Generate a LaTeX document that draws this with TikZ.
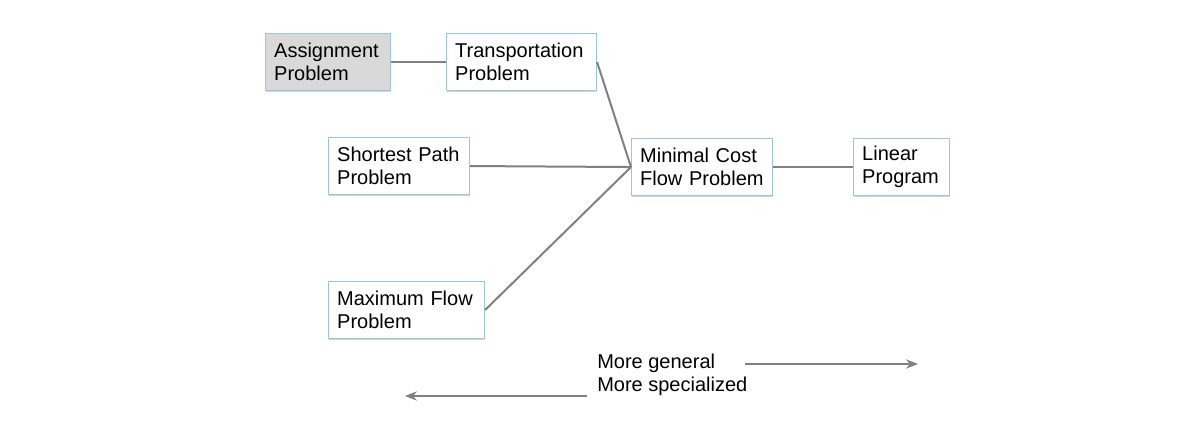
\documentclass[tikz,border=0pt]{standalone}
\usepackage{fontspec}
\setmainfont{Liberation Sans}
\usetikzlibrary{arrows.meta,shadows}
\definecolor{boxblue}{HTML}{9DC3E6}
\definecolor{boxgray}{HTML}{D9D9D9}
\definecolor{linegray}{HTML}{808080}
\tikzset{
    probbox/.style = {draw=boxblue, line width=0.8pt, fill=white, rectangle, align=left, anchor=north west,
        inner sep=0pt, minimum height=42.75pt, font=\fontsize{15}{17.25}\selectfont,
        drop shadow={shadow xshift=0.6pt, shadow yshift=-1.2pt, opacity=0.35}},
    link/.style = {draw=linegray, line width=1.5pt},
    dirarrow/.style = {draw=linegray, line width=1.5pt, -{Stealth[length=9pt, width=7pt]}},
    dirtext/.style = {anchor=base west, inner sep=0pt, font=\fontsize{15}{17.25}\selectfont}
}
\begin{document}
\begin{tikzpicture}[x=0.75pt, y=-0.75pt]
\useasboundingbox (0,0) rectangle (1186,424);

\node [probbox, fill=boxgray, minimum width=93.75pt, text width=80.75pt] (assign) at (265,33) {Assignment\\Problem};
\node [probbox, minimum width=112.5pt, text width=99.5pt] (transp) at (446,33) {Transportation\\Problem};
\node [probbox, minimum width=105.75pt, text width=92.75pt] (short) at (328,137) {Shortest~Path\\Problem};
\node [probbox, minimum width=117pt, text width=104pt] (maxflow) at (328,281) {Maximum~Flow\\Problem};
\node [probbox, minimum width=105.75pt, text width=92.75pt] (mincost) at (631,138) {Minimal~Cost\\Flow~Problem};
\node [probbox, minimum width=72pt, text width=59pt] (linear) at (853,138) {Linear\\Program};

\draw [link] (assign) -- (transp);
\draw [link] (transp.east) -- (mincost.west);
\draw [link] (short.east) -- (mincost.west);
\draw [link] (maxflow.east) -- (mincost.west);
\draw [link] (mincost) -- (linear);

\node [dirtext] (general) at (597,368) {More general};
\node [dirtext] (special) at (597,391) {More specialized};
\coordinate (genstart) at (745,364);
\coordinate (genend) at (918,364);
\coordinate (specstart) at (587,396);
\coordinate (specend) at (405,396);
\draw [dirarrow] (genstart) -- (genend);
\draw [dirarrow] (specstart) -- (specend);

\end{tikzpicture}
\end{document}
